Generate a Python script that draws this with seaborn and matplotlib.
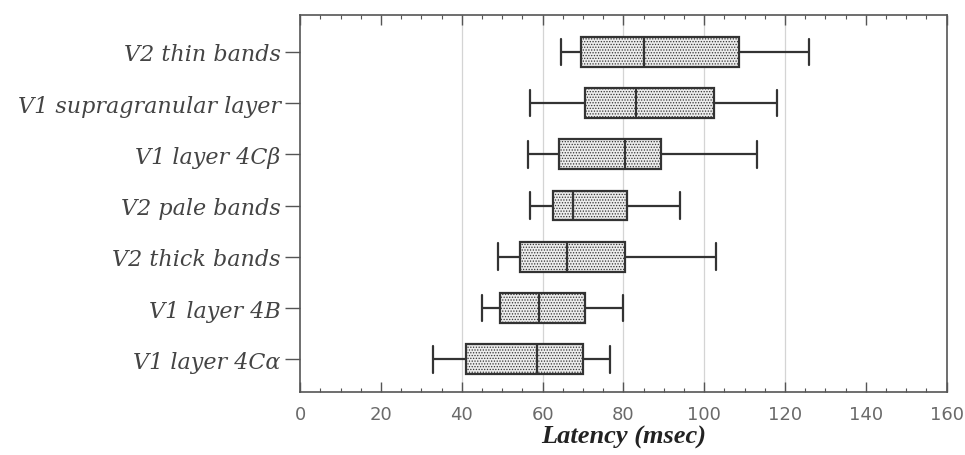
import seaborn as sns
import matplotlib.pyplot as plt
import matplotlib.ticker as mticker
import numpy as np
import pandas as pd

# Visual areas / layers, top to bottom
regions = [
    "V2 thin bands",
    "V1 supragranular layer",
    "V1 layer 4C\u03b2",
    "V2 pale bands",
    "V2 thick bands",
    "V1 layer 4B",
    "V1 layer 4C\u03b1",
]

# Five-number summaries (msec)
lat_min = [64.5, 57.0, 56.5, 57.0, 49.0, 45.0, 33.0]
lat_q1 = [69.5, 70.5, 64.0, 62.5, 54.5, 49.5, 41.0]
lat_median = [85.0, 83.0, 80.3, 67.5, 66.0, 59.0, 58.5]
lat_q3 = [108.5, 102.5, 89.4, 81.0, 80.5, 70.5, 70.0]
lat_max = [126.0, 118.0, 113.0, 94.0, 103.0, 80.0, 76.7]

xticks = [0, 20, 40, 60, 80, 100, 120, 140, 160]
grid_at = [40, 60, 80, 100, 120]

# Long-form table: five points per region reproduce the summary exactly
rows = []
for i, name in enumerate(regions):
    for v in (lat_min[i], lat_q1[i], lat_median[i], lat_q3[i], lat_max[i]):
        rows.append({"region": name, "latency": v})
df = pd.DataFrame(rows)

sns.set_style("ticks")
plt.rcParams["hatch.color"] = "#9a9a9a"
plt.rcParams["hatch.linewidth"] = 0.6

fig = plt.figure(figsize=(9.65, 4.56), dpi=100)
ax = fig.add_axes([0.311, 0.138, 0.670, 0.827])

for g in grid_at:
    ax.axvline(g, color="#d4d4d4", lw=0.9, zorder=0)

sns.boxplot(
    data=df, x="latency", y="region", order=regions, orient="h",
    whis=(0, 100), width=0.58, color="#ececec", linecolor="#333333",
    linewidth=1.6, ax=ax, capwidths=0.52,
    medianprops={"color": "#333333", "linewidth": 1.6},
    capprops={"color": "#333333", "linewidth": 1.6},
    whiskerprops={"color": "#333333", "linewidth": 1.6},
)

for patch in ax.patches:
    patch.set_hatch("......")

ax.set_xlim(0, 160)
ax.set_ylim(6.64, -0.72)
ax.set_xticks(xticks)
ax.xaxis.set_minor_locator(mticker.MultipleLocator(5))
ax.tick_params(axis="x", which="major", direction="in", length=7, width=1,
               top=True, color="#555555", labelsize=13, labelcolor="#6a6a6a", pad=9)
ax.tick_params(axis="x", which="minor", direction="in", length=3, width=0.8,
               top=True, color="#555555")
ax.tick_params(axis="y", which="major", direction="out", length=11, width=1,
               color="#555555", pad=3)

for lab in ax.get_yticklabels():
    lab.set_fontfamily("DejaVu Serif")
    lab.set_fontstyle("italic")
    lab.set_fontsize(16)
    lab.set_color("#444444")

for s in ax.spines.values():
    s.set_color("#555555")
    s.set_linewidth(1.2)

ax.set_ylabel("")
ax.set_xlabel("Latency (msec)", family="Liberation Serif", style="italic",
              weight="bold", fontsize=19, color="#222222", labelpad=2)

plt.savefig("out.png", dpi=100)
plt.close()
